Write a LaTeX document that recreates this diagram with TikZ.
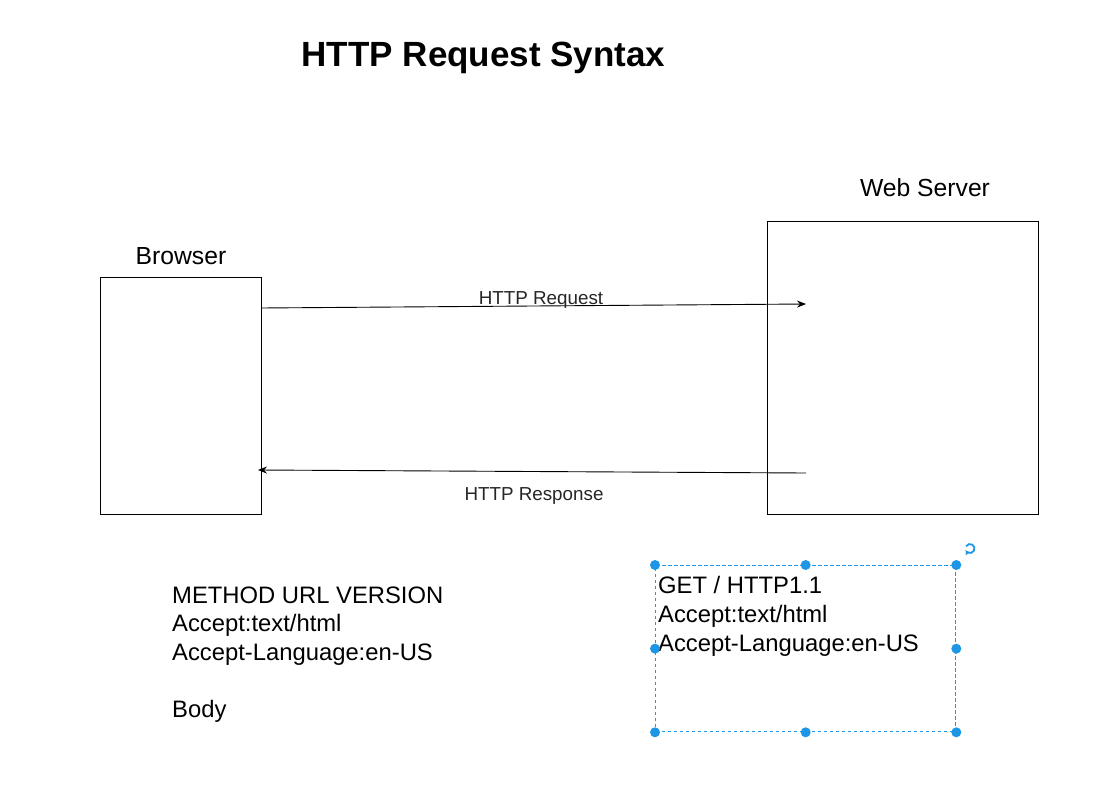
\documentclass[tikz,border=0pt]{standalone}
\usepackage{fontspec}
\setmainfont{Liberation Sans}
\usetikzlibrary{arrows.meta,calc}
\definecolor{selblue}{HTML}{1E96E6}
\begin{document}
\begin{tikzpicture}[x=1pt,y=-1pt,
  box/.style={draw=black,line width=1pt,inner sep=0pt},
  lbl/.style={font=\fontsize{24.7}{29}\selectfont,anchor=base,inner sep=0pt},
  small/.style={font=\fontsize{18.8}{22}\selectfont,anchor=base,inner sep=0pt,text=black!85},
  body/.style={font=\fontsize{23.8}{28.5}\selectfont,anchor=base west,inner sep=0pt,align=left},
  conn/.style={line width=0.9pt,-{Stealth[length=9pt,width=7pt]}},
  handle/.style={circle,fill=selblue,minimum size=10pt,inner sep=0pt}]
\useasboundingbox (0,0) rectangle (1115,802);
\fill[white] (0,0) rectangle (1115,802);
% title
\node[anchor=base,inner sep=0pt,font=\fontsize{35}{42}\selectfont\bfseries] (title) at (483.5,67) {HTTP Request Syntax};
% boxes
\node[box,minimum width=161pt,minimum height=237pt,anchor=north west] (browser) at (100,277) {};
\node[box,minimum width=271pt,minimum height=293pt,anchor=north west] (server) at (767,221) {};
\node[lbl] (blbl) at (181,264) {Browser};
\node[lbl] (slbl) at (925,197) {Web Server};
% connectors
\coordinate (reqend) at (806,304);
\coordinate (resstart) at (806,473);
\coordinate (reqstart) at (261,308);
\coordinate (resend) at (258,470);
\draw[conn] (reqstart) -- (reqend);
\draw[conn] (resstart) -- (resend);
\node[small] (reqlbl) at (541,304) {HTTP Request};
\node[small] (reslbl) at (534,500) {HTTP Response};
% left text
\node[body] (l1) at (172,603) {METHOD URL VERSION};
\node[body] (l2) at (172,631.5) {Accept:text/html};
\node[body] (l3) at (172,660) {Accept-Language:en-US};
\node[body] (l4) at (172,717.5) {Body};
% selected text box
\node[draw=selblue,line width=1.3pt,dash pattern=on 3.5pt off 2.5pt,minimum width=300pt,minimum height=166pt,anchor=north west,inner sep=0pt] (sel) at (655,565) {};
\node[body] (r1) at (658,593) {GET / HTTP1.1};
\node[body] (r2) at (658,622) {Accept:text/html};
\node[body] (r3) at (658,651) {Accept-Language:en-US};
\foreach \a/\n in {north west/h1,north/h2,north east/h3,west/h4,east/h5,south west/h6,south/h7,south east/h8}
  \node[handle] (\n) at (sel.\a) {};
% rotate icon
\coordinate (rot) at (970,548.5);
\draw[selblue,line width=1.8pt,-{Triangle[length=3.5pt,width=5pt]}] ($(rot)+(150:4.5pt)$) arc[start angle=150,end angle=-150,radius=4.5pt];
\end{tikzpicture}
\end{document}
